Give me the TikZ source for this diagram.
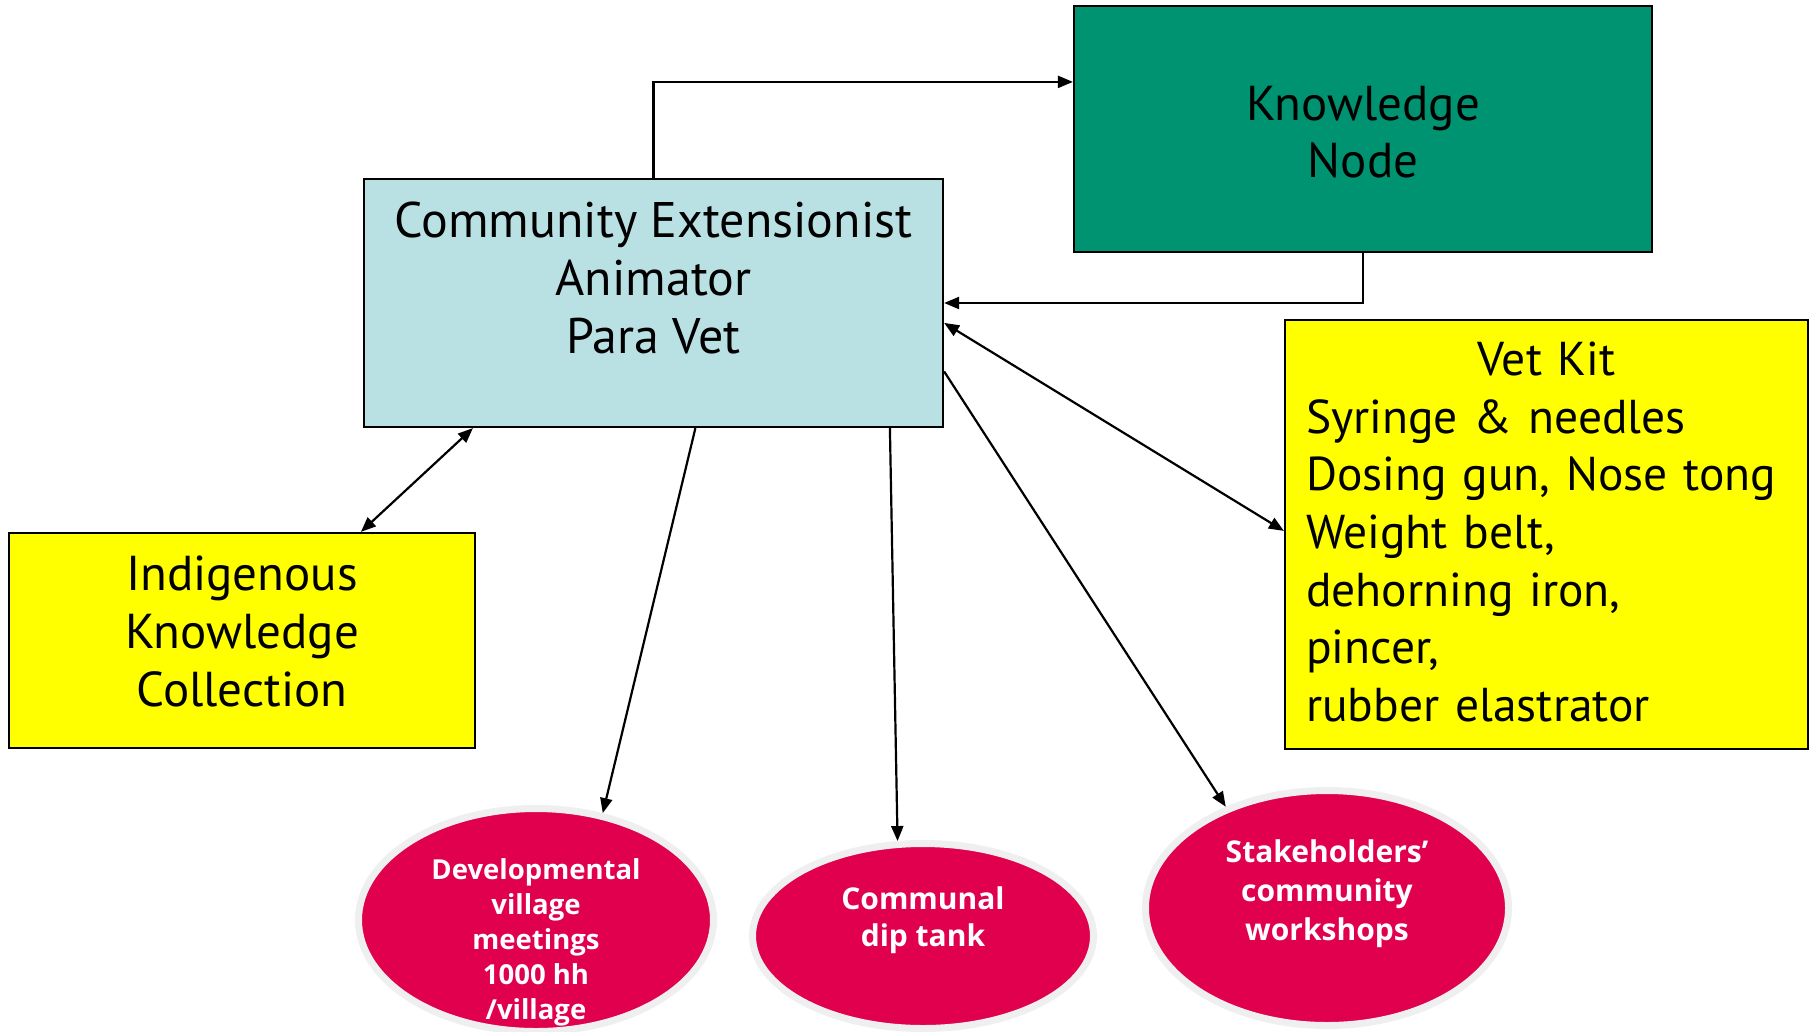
\documentclass[tikz,border=0pt]{standalone}
\usepackage{fontspec}
\setmainfont{PT Sans}
\newfontfamily\ellfont{Open Sans}
\usetikzlibrary{arrows.meta,shapes.geometric,calc}
\definecolor{cebox}{HTML}{B9E0E3}
\definecolor{kngreen}{HTML}{009371}
\definecolor{ybox}{HTML}{FFFF00}
\definecolor{redell}{HTML}{E0004D}
\definecolor{ringgray}{HTML}{EFEFEF}
\tikzset{
  boxst/.style={draw=black, line width=2.2pt, rectangle, inner sep=0pt, align=center},
  bigtxt/.style={font=\fontsize{49}{57.6}\selectfont, align=center, inner sep=0pt},
  elst/.style={ellipse, fill=redell, draw=ringgray, line width=7pt, inner sep=0pt},
  eltxt/.style={text=white, align=center, inner sep=0pt},
  arr/.style={line width=2.2pt, -{Triangle[length=15pt,width=12pt]}},
  arrtwo/.style={line width=2.2pt, {Triangle[length=15pt,width=12pt]}-{Triangle[length=15pt,width=12pt]}}
}
\begin{document}
\begin{tikzpicture}[x=1pt,y=-1pt]
\useasboundingbox (0,0) rectangle (1814,1031);
\fill[white] (0,0) rectangle (1814,1031);

% boxes
\node[boxst, fill=kngreen, minimum width=578, minimum height=246] (kn) at (1363,129) {};
\node[bigtxt] (knt) at (1363,132) {Knowledge\\Node};
\node[boxst, fill=cebox, minimum width=579, minimum height=248] (ce) at (653.5,303) {};
\node[bigtxt, font=\fontsize{50}{58}\selectfont] (cet) at (653.5,278) {Community Extensionist\\Animator\\Para Vet};
\node[boxst, fill=ybox, minimum width=523, minimum height=429] (vk) at (1546.5,534.5) {};
\node[bigtxt, font=\fontsize{47.5}{57.6}\selectfont, text width=505, align=left, anchor=west] (vkt) at (1306,532) {\makebox[481pt][c]{Vet Kit}\\Syringe \& needles\\Dosing gun, Nose tong\\Weight belt,\\dehorning iron,\\pincer,\\rubber elastrator};
\node[boxst, fill=ybox, minimum width=466, minimum height=215] (ik) at (242,640.5) {};
\node[bigtxt] (ikt) at (242,631.5) {Indigenous\\Knowledge\\Collection};

% ellipses
\node[elst, minimum width=355, minimum height=223] (dev) at (536,920) {};
\node[eltxt, font=\ellfont\bfseries\fontsize{27.5}{35}\selectfont] (devt) at (536,942) {Developmental\\village\\meetings\\1000 hh\\/village};
\node[elst, minimum width=341, minimum height=185] (dip) at (923,936) {};
\node[eltxt, font=\ellfont\bfseries\fontsize{30}{37}\selectfont] (dipt) at (923,920) {Communal\\dip tank};
\node[elst, minimum width=363, minimum height=235] (stk) at (1327,908) {};
\node[eltxt, font=\ellfont\bfseries\fontsize{30}{39}\selectfont] (stkt) at (1327,894) {Stakeholders’\\community\\workshops};

% connectors
\draw[arr] (ce.north) |- ($(kn.north west)+(0,77)$);
\draw[arr] (kn.south) |- (ce.east);
\draw[arrtwo] ($(ce.north east)+(0,145)$) -- ($(vk.north west)+(0,212)$);
\draw[arrtwo] ($(ce.south west)+(110,0)$) -- ($(ik.north west)+(353,0)$);
\draw[arr] ($(ce.south west)+(332.5,0)$) -- (dev.58);
\draw[arr] ($(ce.south west)+(527,0)$) -- (dip.105);
\draw[arr] ($(ce.north east)+(0,193.5)$) -- (stk.135);
\end{tikzpicture}
\end{document}
